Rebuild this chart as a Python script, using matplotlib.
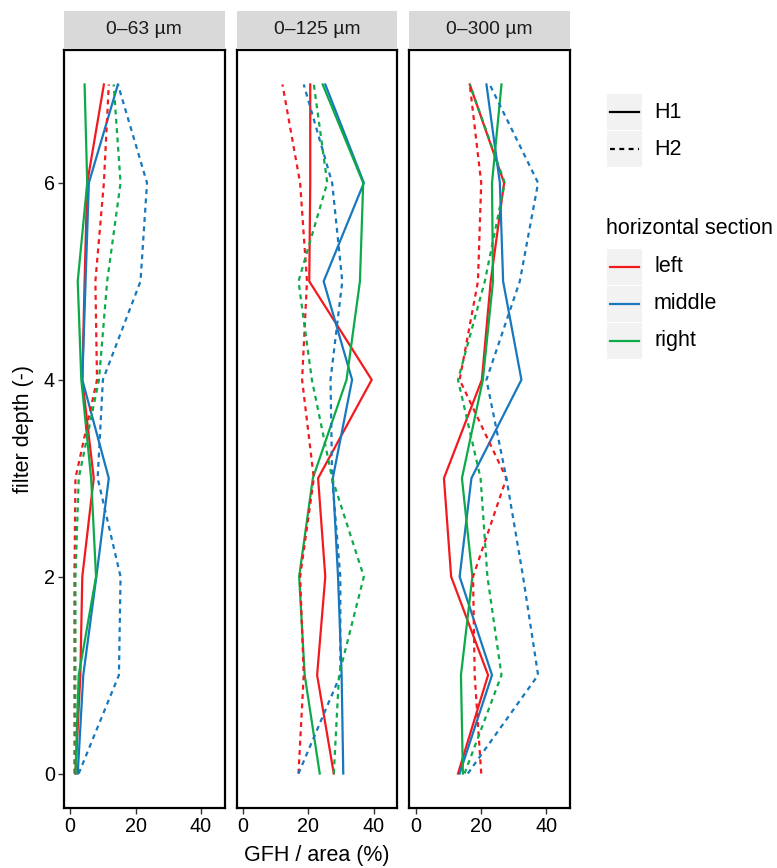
import matplotlib
matplotlib.use("Agg")
import matplotlib.pyplot as plt
from matplotlib.patches import Rectangle
from matplotlib.lines import Line2D

plt.rcParams['font.family'] = ['Liberation Sans', 'DejaVu Sans']

# filter depth levels (y axis)
depth = [0, 1, 2, 3, 4, 5, 6, 7]

panels = ["0\u201363 \u00b5m", "0\u2013125 \u00b5m", "0\u2013300 \u00b5m"]
sections = ["left", "middle", "right"]
layers = ["H1", "H2"]

# GFH / area (%) per depth, one list per section and layer
left_h1_63 = [1.6, 3.1, 3.7, 7.2, 3.7, 4.4, 5.2, 10.3]
left_h2_63 = [1.3, 1.3, 1.3, 1.6, 8.2, 7.7, 10.3, 11.8]
middle_h1_63 = [2.3, 4.0, 8.0, 11.8, 3.7, 4.7, 5.7, 14.6]
middle_h2_63 = [2.6, 14.9, 15.4, 8.4, 10.0, 21.5, 23.5, 14.6]
right_h1_63 = [1.6, 2.6, 7.9, 6.4, 3.4, 2.3, 5.2, 4.4]
right_h2_63 = [1.6, 1.6, 1.6, 2.6, 8.8, 11.3, 15.4, 13.3]

left_h1_125 = [27.8, 22.7, 25.2, 23.0, 39.4, 20.3, 20.6, 20.6]
left_h2_125 = [17.0, 18.6, 17.5, 21.7, 18.1, 19.6, 17.5, 12.1]
middle_h1_125 = [30.7, 30.2, 29.1, 27.5, 33.4, 24.7, 37.0, 25.2]
middle_h2_125 = [17.0, 29.8, 29.8, 27.3, 26.8, 30.4, 27.3, 18.6]
right_h1_125 = [23.5, 18.9, 17.2, 21.4, 31.7, 35.8, 36.8, 24.4]
right_h2_125 = [27.8, 29.4, 37.0, 27.3, 21.1, 17.0, 25.8, 21.7]

left_h1_300 = [13.0, 22.2, 10.9, 8.7, 20.3, 23.0, 27.1, 16.6]
left_h2_300 = [20.1, 18.1, 17.6, 27.8, 13.5, 19.1, 20.1, 16.6]
middle_h1_300 = [13.5, 23.4, 13.5, 17.1, 32.4, 26.8, 25.8, 21.7]
middle_h2_300 = [16.0, 37.5, 32.9, 27.8, 21.7, 31.9, 37.5, 22.7]
right_h1_300 = [14.5, 13.9, 17.4, 14.2, 20.6, 23.7, 23.4, 26.3]
right_h2_300 = [15.0, 26.3, 22.0, 19.9, 13.0, 21.2, 27.3, 16.6]

data = {
    panels[0]: {("left", "H1"): left_h1_63, ("left", "H2"): left_h2_63,
                ("middle", "H1"): middle_h1_63, ("middle", "H2"): middle_h2_63,
                ("right", "H1"): right_h1_63, ("right", "H2"): right_h2_63},
    panels[1]: {("left", "H1"): left_h1_125, ("left", "H2"): left_h2_125,
                ("middle", "H1"): middle_h1_125, ("middle", "H2"): middle_h2_125,
                ("right", "H1"): right_h1_125, ("right", "H2"): right_h2_125},
    panels[2]: {("left", "H1"): left_h1_300, ("left", "H2"): left_h2_300,
                ("middle", "H1"): middle_h1_300, ("middle", "H2"): middle_h2_300,
                ("right", "H1"): right_h1_300, ("right", "H2"): right_h2_300},
}

colors = {"left": "#F21A1F", "middle": "#1778BD", "right": "#0DAA4A"}
LW = 1.6
DASH = (2.2, 2.0)
TICK_FS = 14.2
TITLE_FS = 15.5

W, H = 777, 868
fig = plt.figure(figsize=(W / 100, H / 100), dpi=100)

def fx(px):
    return px / W

def fy(py):
    return 1 - py / H

panel_left = [64, 236.7, 409.3]
panel_w = 160.5
top, bottom = 50, 808

axes = []
for i, name in enumerate(panels):
    ax = fig.add_axes([fx(panel_left[i]), fy(bottom), panel_w / W, (bottom - top) / H])
    axes.append(ax)
    for layer in layers:
        for sec in sections:
            x = data[name][(sec, layer)]
            if layer == "H1":
                ax.plot(x, depth, color=colors[sec], lw=LW, solid_joinstyle="miter")
            else:
                ax.plot(x, depth, color=colors[sec], lw=LW, dashes=DASH)
    ax.set_xlim(-1.9, 47.2)
    ax.set_ylim(-0.35, 7.35)
    ax.set_xticks([0, 20, 40])
    ax.set_yticks([0, 2, 4, 6])
    for s in ax.spines.values():
        s.set_linewidth(1.6)
        s.set_color("black")
    ax.tick_params(length=4, width=1.0, color="#333333", labelsize=TICK_FS,
                   labelcolor="black", pad=2.5)
    if i > 0:
        ax.tick_params(axis="y", left=False, labelleft=False)
    # facet strip
    strip = fig.add_axes([fx(panel_left[i]), fy(top - 1), panel_w / W, 38 / H])
    strip.set_facecolor("#D9D9D9")
    strip.set_xticks([])
    strip.set_yticks([])
    for s in strip.spines.values():
        s.set_visible(False)
    strip.text(0.5, 0.5, name, ha="center", va="center", fontsize=13.9, color="#1A1A1A")

fig.text(fx(316.7), fy(856), "GFH / area (%)", ha="center", va="center", fontsize=TITLE_FS)
fig.text(fx(23.5), fy(429), "filter depth (-)", ha="center", va="center",
         rotation=90, fontsize=TITLE_FS)

# legend keys
def key(y0, y1, color, dashed):
    fig.add_artist(Rectangle((fx(606.7), fy(y1)), 35 / W, (y1 - y0) / H,
                             transform=fig.transFigure, facecolor="#F2F2F2",
                             edgecolor="none"))
    yc = fy((y0 + y1) / 2)
    ln = Line2D([fx(609.5), fx(639)], [yc, yc], transform=fig.transFigure,
                color=color, lw=LW)
    if dashed:
        ln.set_dashes(DASH)
    fig.add_artist(ln)

key(94, 130, "black", False)
fig.text(fx(654), fy(112), "H1", va="center", fontsize=TITLE_FS)
key(131.5, 167, "black", True)
fig.text(fx(654), fy(149.5), "H2", va="center", fontsize=TITLE_FS)

fig.text(fx(606), fy(228), "horizontal section", va="center", fontsize=TITLE_FS)
boxes = [(249, 284.5), (286, 321.5), (323, 358.5)]
for sec, (y0, y1) in zip(sections, boxes):
    key(y0, y1, colors[sec], False)
    fig.text(fx(654), fy((y0 + y1) / 2), sec, va="center", fontsize=TITLE_FS)

fig.savefig("out.png", dpi=100)
